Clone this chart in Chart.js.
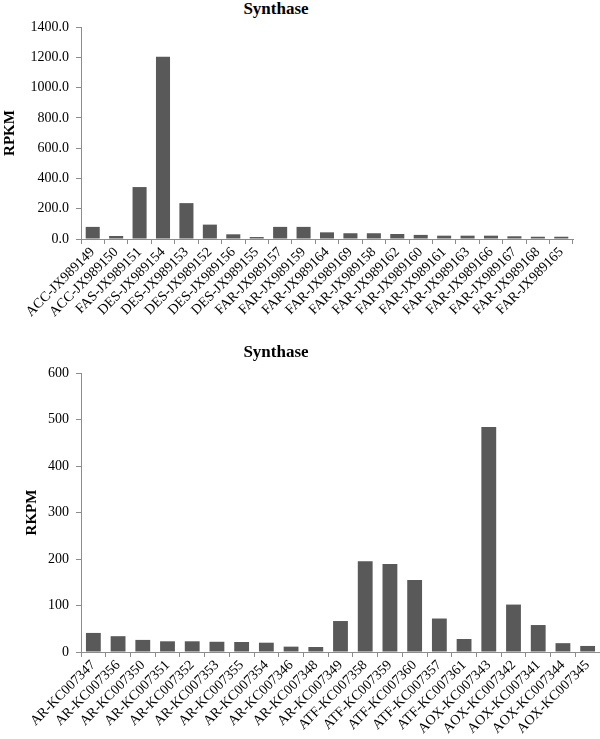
<!DOCTYPE html>
<html>
<head>
<meta charset="utf-8">
<script src="https://cdn.jsdelivr.net/npm/chart.js@4/dist/chart.umd.min.js"></script>
<style>
  body { margin: 0; background: #fff; }
  #wrap { position: relative; width: 600px; height: 739px; overflow: hidden; }
  .ttl { position: absolute; left: 176px; width: 200px; text-align: center;
         font: bold 17px "Liberation Serif", "Times New Roman", serif; color: #000; line-height: 20px; }
  canvas { position: absolute; left: 0; }
</style>
</head>
<body>
<div id="wrap">
  <div class="ttl" style="top:-1px">Synthase</div>
  <canvas id="chart1" width="600" height="345" style="top:0"></canvas>
  <div class="ttl" style="top:342px">Synthase</div>
  <canvas id="chart2" width="600" height="394" style="top:345px"></canvas>
</div>
<script>
// top chart
var topLabels = ['ACC-JX989149', 'ACC-JX989150', 'FAS-JX989151', 'DES-JX989154', 'DES-JX989153',
  'DES-JX989152', 'DES-JX989156', 'DES-JX989155', 'FAR-JX989157', 'FAR-JX989159', 'FAR-JX989164',
  'FAR-JX989169', 'FAR-JX989158', 'FAR-JX989162', 'FAR-JX989160', 'FAR-JX989161', 'FAR-JX989163',
  'FAR-JX989166', 'FAR-JX989167', 'FAR-JX989168', 'FAR-JX989165'];
var topValues = [80, 20, 343, 1203, 237, 95, 31, 13, 80, 80, 44, 38, 38, 33, 27, 22, 22, 22, 18, 15, 15];
var topTicks = [0, 200, 400, 600, 800, 1000, 1200, 1400];

// bottom chart
var bottomLabels = ['AR-KC007347', 'AR-KC007356', 'AR-KC007350', 'AR-KC007351', 'AR-KC007352',
  'AR-KC007353', 'AR-KC007355', 'AR-KC007354', 'AR-KC007346', 'AR-KC007348', 'AR-KC007349',
  'ATF-KC007358', 'ATF-KC007359', 'ATF-KC007360', 'ATF-KC007357', 'ATF-KC007361', 'AOX-KC007343',
  'AOX-KC007342', 'AOX-KC007341', 'AOX-KC007344', 'AOX-KC007345'];
var bottomValues = [41, 34, 26, 23, 23, 22, 21.5, 20, 11.5, 10.7, 66.6, 195, 189, 155, 72, 28, 484, 102, 58, 19, 13];
var bottomTicks = [0, 100, 200, 300, 400, 500, 600];

var serif = '"Liberation Serif", "Times New Roman", serif';
var axisGray = '#8c8c8c';

function makeChart(id, labels, values, ticks, yTitle, opts) {
  var ctx = document.getElementById(id).getContext('2d');
  return new Chart(ctx, {
    type: 'bar',
    data: {
      labels: labels,
      datasets: [{
        data: values,
        backgroundColor: '#595959',
        borderColor: '#595959',
        borderWidth: 0,
        categoryPercentage: 1.0,
        barPercentage: 0.6
      }]
    },
    options: {
      responsive: false,
      animation: false,
      layout: { padding: { top: opts.padTop, right: opts.padRight, left: 0, bottom: 0 } },
      plugins: { legend: { display: false }, tooltip: { enabled: false }, title: { display: false } },
      scales: {
        x: {
          grid: { display: true, drawOnChartArea: false, drawTicks: true, tickLength: 5, color: axisGray, offset: true },
          border: { display: true, color: axisGray, width: 1 },
          ticks: {
            autoSkip: false, maxRotation: 45, minRotation: 45, padding: 0,
            color: '#000', font: { family: serif, size: 14 }
          },
          afterFit: function (scale) { scale.height = opts.xHeight; }
        },
        y: {
          min: 0,
          max: ticks[ticks.length - 1],
          afterBuildTicks: function (scale) {
            scale.ticks = ticks.map(function (v) { return { value: v }; });
          },
          grid: { display: true, drawOnChartArea: false, drawTicks: true, tickLength: 5, color: axisGray },
          border: { display: true, color: axisGray, width: 1 },
          ticks: {
            padding: 7, color: '#000', font: { family: serif, size: 14 },
            callback: function (v) { return opts.decimals ? Number(v).toFixed(1) : String(v); }
          },
          title: {
            display: true, text: yTitle, color: '#000',
            font: { family: serif, size: 15, weight: 'bold' },
            padding: { top: opts.titlePad, bottom: 0 }
          },
          afterFit: function (scale) { scale.width = 81; }
        }
      }
    }
  });
}

makeChart('chart1', topLabels, topValues, topTicks, 'RPKM',
  { padTop: 27, padRight: 27, xHeight: 106, decimals: true, titlePad: 1 });
makeChart('chart2', bottomLabels, bottomValues, bottomTicks, 'RKPM',
  { padTop: 28, padRight: 0, xHeight: 87, decimals: false, titlePad: 23 });
</script>
</body>
</html>
